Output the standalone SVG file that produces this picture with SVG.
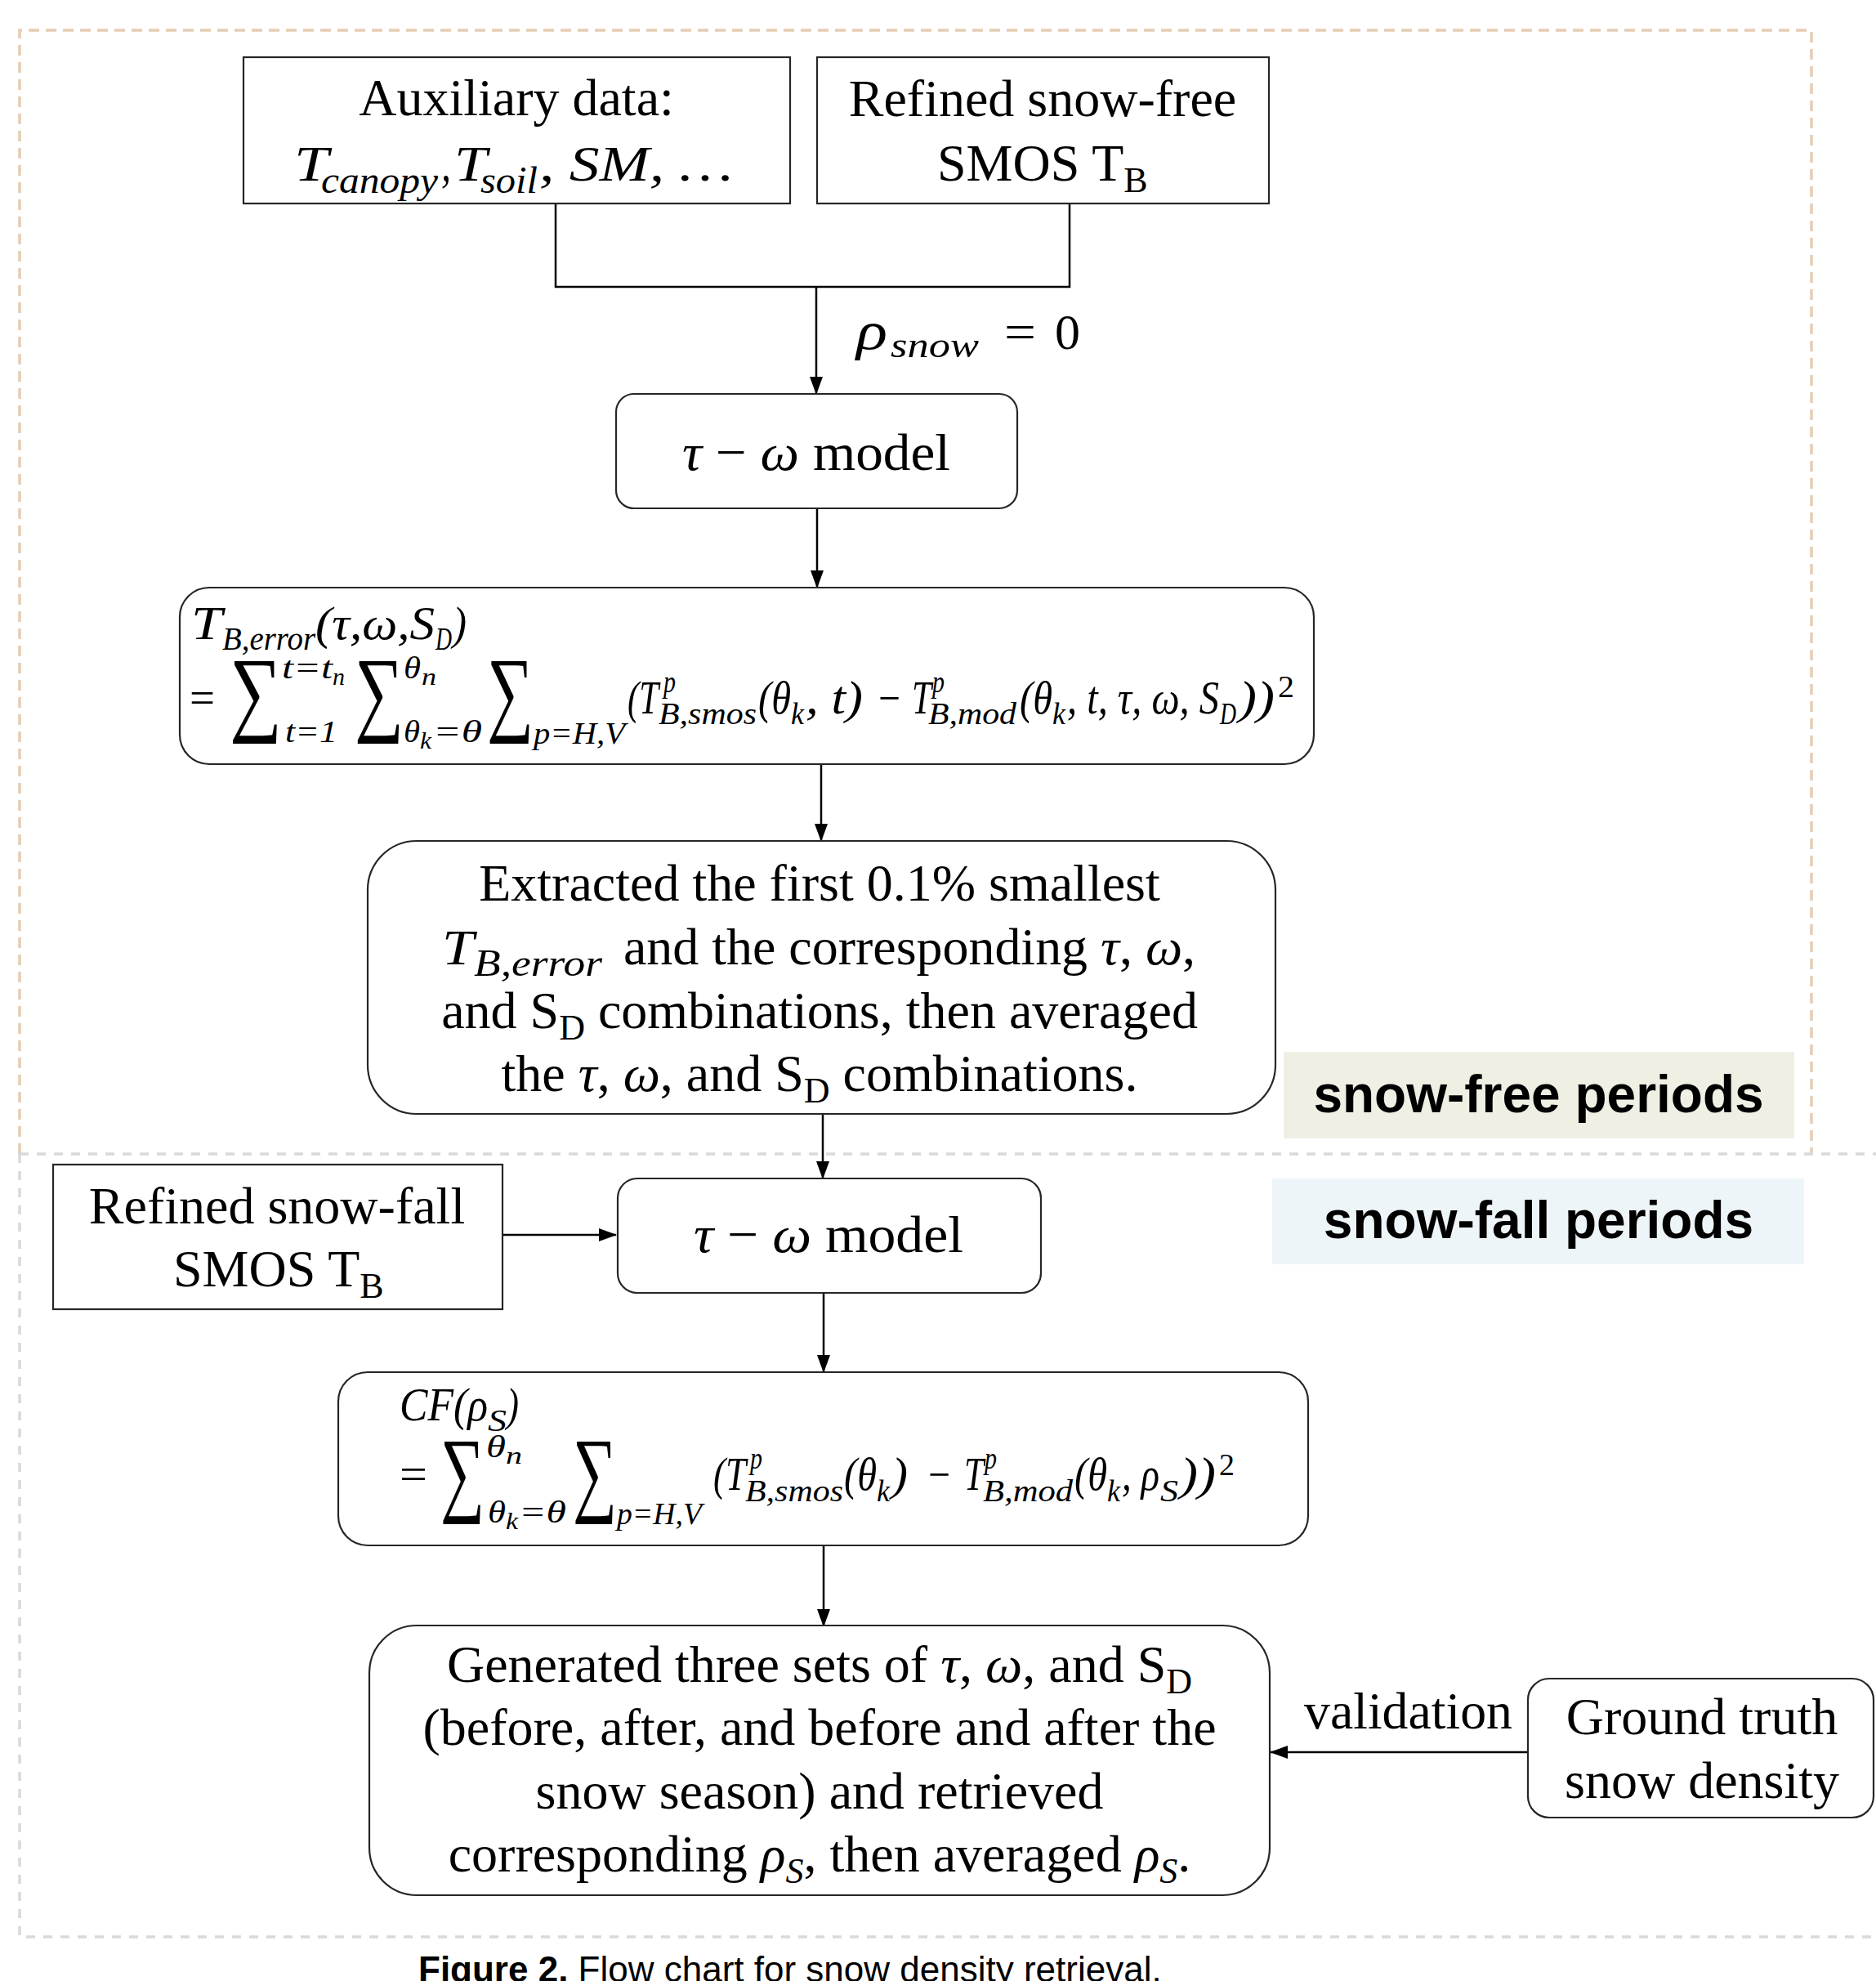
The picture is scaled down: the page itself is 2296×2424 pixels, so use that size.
<svg xmlns="http://www.w3.org/2000/svg" width="2296" height="2424" viewBox="0 0 2296 2424">
<style>
.t{font-family:"Liberation Serif","Times New Roman",serif;font-size:64px;fill:#000}
.m{font-family:"Liberation Serif","Times New Roman",serif;font-style:italic;fill:#000}
.r{font-family:"Liberation Serif","Times New Roman",serif;fill:#000}
.box{fill:#fff;stroke:#262626;stroke-width:2.2}
.conn{stroke:#000;stroke-width:2.5;fill:none}
.lab{font-family:"Liberation Sans",Arial,sans-serif;font-weight:bold;font-size:64px;fill:#000}
.cap{font-family:"Liberation Sans",Arial,sans-serif;font-size:44px;fill:#000}
.dOr{stroke:#e6ccb4;stroke-width:3.5;fill:none;stroke-dasharray:13 8}
.dGr{stroke:#d9d9d9;stroke-width:3.5;fill:none;stroke-dasharray:11 10}
</style>
<defs>
<marker id="ah" markerUnits="userSpaceOnUse" markerWidth="22" markerHeight="16" refX="21" refY="8" orient="auto">
<path d="M0,0 L22,8 L0,16 z" fill="#000"/>
</marker>
</defs>

<g id="regions">
<path class="dOr" d="M24,1412 V37 H2217 V1412"/>
<path class="dGr" d="M24,1412 H2296"/>
<path class="dGr" d="M24,1412 V2370 H2296"/>
<rect x="1571" y="1287" width="625" height="106" fill="#efefe4"/>
<text class="lab" x="1883" y="1361" text-anchor="middle">snow-free periods</text>
<rect x="1557" y="1442" width="651" height="105" fill="#eef5f8"/>
<text class="lab" x="1883" y="1515" text-anchor="middle">snow-fall periods</text>
</g>

<g id="connectors">
<path class="conn" d="M680,249 V351 H1309 V249" stroke-width="3"/>
<line class="conn" x1="999" y1="351" x2="999" y2="482" marker-end="url(#ah)"/>
<line class="conn" x1="1000" y1="622" x2="1000" y2="719" marker-end="url(#ah)"/>
<line class="conn" x1="1005" y1="935" x2="1005" y2="1029" marker-end="url(#ah)"/>
<line class="conn" x1="1007" y1="1363" x2="1007" y2="1442" marker-end="url(#ah)"/>
<line class="conn" x1="615" y1="1511" x2="754" y2="1511" marker-end="url(#ah)" stroke-width="3"/>
<line class="conn" x1="1008" y1="1582" x2="1008" y2="1679" marker-end="url(#ah)"/>
<line class="conn" x1="1008" y1="1891" x2="1008" y2="1990" marker-end="url(#ah)"/>
<line class="conn" x1="1870" y1="2144" x2="1555" y2="2144" marker-end="url(#ah)" stroke-width="3"/>
<g id="rho-label">
<text class="m" x="1048" y="427" font-size="66" textLength="38" lengthAdjust="spacingAndGlyphs">ρ</text>
<text class="m" x="1090" y="437" font-size="44" textLength="108" lengthAdjust="spacingAndGlyphs">snow</text>
<text class="r" x="1229" y="427" font-size="62" textLength="39" lengthAdjust="spacingAndGlyphs">=</text>
<text class="r" x="1291" y="427" font-size="62" textLength="31" lengthAdjust="spacingAndGlyphs">0</text>
</g>
<text class="t" x="1596" y="2115" textLength="255" lengthAdjust="spacingAndGlyphs">validation</text>
</g>

<g id="aux">
<rect class="box" x="298" y="70" width="669" height="179"/>
<text class="t" x="632" y="141" text-anchor="middle">Auxiliary data:</text>
<text class="m" x="360" y="221" font-size="62" textLength="42" lengthAdjust="spacingAndGlyphs">T</text>
<text class="m" x="393" y="236" font-size="46" textLength="143" lengthAdjust="spacingAndGlyphs">canopy</text>
<text class="m" x="540" y="221" font-size="62" textLength="12" lengthAdjust="spacingAndGlyphs">,</text>
<text class="m" x="556" y="221" font-size="62" textLength="40" lengthAdjust="spacingAndGlyphs">T</text>
<text class="m" x="588" y="236" font-size="46" textLength="70" lengthAdjust="spacingAndGlyphs">soil</text>
<text class="m" x="660" y="221" font-size="62" textLength="237" lengthAdjust="spacingAndGlyphs">, SM, …</text>
</g>

<g id="smos-free">
<rect class="box" x="1000" y="70" width="553" height="179"/>
<text class="t" x="1276" y="142" text-anchor="middle">Refined snow-free</text>
<text class="t" x="1147" y="221">SMOS T<tspan font-size="44" dy="14">B</tspan></text>
</g>

<g id="tau-omega-1">
<rect class="box" x="754" y="482" width="491" height="140" rx="22"/>
<text class="t" x="835" y="575" textLength="328" lengthAdjust="spacingAndGlyphs"><tspan font-style="italic">τ</tspan> − <tspan font-style="italic">ω</tspan> model</text>
</g>

<g id="cost-1">
<rect class="box" x="220" y="719" width="1388" height="216" rx="36"/>
<text class="m" x="234" y="782" font-size="56" textLength="38" lengthAdjust="spacingAndGlyphs">T</text>
<text class="m" x="272" y="795" font-size="40" textLength="114" lengthAdjust="spacingAndGlyphs">B,error</text>
<text class="m" x="386" y="782" font-size="56" textLength="146" lengthAdjust="spacingAndGlyphs">(τ,ω,S</text>
<text class="m" x="533" y="795" font-size="40" textLength="20" lengthAdjust="spacingAndGlyphs">D</text>
<text class="m" x="554" y="782" font-size="56" textLength="17" lengthAdjust="spacingAndGlyphs">)</text>
<text class="r" x="232" y="873" font-size="56" textLength="31" lengthAdjust="spacingAndGlyphs">=</text>
<text class="r" x="281" y="885" font-size="116" textLength="64" lengthAdjust="spacingAndGlyphs">∑</text>
<text class="m" x="345" y="830" font-size="38" textLength="62" lengthAdjust="spacingAndGlyphs">t=t</text>
<text class="m" x="407" y="838" font-size="30" textLength="15" lengthAdjust="spacingAndGlyphs">n</text>
<text class="m" x="349" y="908" font-size="38" textLength="64" lengthAdjust="spacingAndGlyphs">t=1</text>
<text class="r" x="434" y="885" font-size="116" textLength="60" lengthAdjust="spacingAndGlyphs">∑</text>
<text class="m" x="494" y="830" font-size="38" textLength="21" lengthAdjust="spacingAndGlyphs">θ</text>
<text class="m" x="516" y="838" font-size="30" textLength="18" lengthAdjust="spacingAndGlyphs">n</text>
<text class="m" x="494" y="908" font-size="38" textLength="20" lengthAdjust="spacingAndGlyphs">θ</text>
<text class="m" x="514" y="916" font-size="30" textLength="14" lengthAdjust="spacingAndGlyphs">k</text>
<text class="m" x="530" y="908" font-size="38" textLength="60" lengthAdjust="spacingAndGlyphs">=θ</text>
<text class="r" x="596" y="885" font-size="116" textLength="57" lengthAdjust="spacingAndGlyphs">∑</text>
<text class="m" x="653" y="910" font-size="38" textLength="112" lengthAdjust="spacingAndGlyphs">p=H,V</text>
<text class="m" x="768" y="873" font-size="56" textLength="38" lengthAdjust="spacingAndGlyphs">(T</text>
<text class="m" x="812" y="847" font-size="38" textLength="15" lengthAdjust="spacingAndGlyphs">p</text>
<text class="m" x="806" y="886" font-size="38" textLength="120" lengthAdjust="spacingAndGlyphs">B,smos</text>
<text class="m" x="928" y="873" font-size="56" textLength="40" lengthAdjust="spacingAndGlyphs">(θ</text>
<text class="m" x="968" y="886" font-size="38" textLength="16" lengthAdjust="spacingAndGlyphs">k</text>
<text class="m" x="986" y="873" font-size="56" textLength="70" lengthAdjust="spacingAndGlyphs">, t)</text>
<text class="r" x="1075" y="873" font-size="56" textLength="27" lengthAdjust="spacingAndGlyphs">−</text>
<text class="m" x="1116" y="873" font-size="56" textLength="24" lengthAdjust="spacingAndGlyphs">T</text>
<text class="m" x="1141" y="847" font-size="38" textLength="15" lengthAdjust="spacingAndGlyphs">p</text>
<text class="m" x="1136" y="886" font-size="38" textLength="108" lengthAdjust="spacingAndGlyphs">B,mod</text>
<text class="m" x="1248" y="873" font-size="56" textLength="40" lengthAdjust="spacingAndGlyphs">(θ</text>
<text class="m" x="1288" y="886" font-size="38" textLength="16" lengthAdjust="spacingAndGlyphs">k</text>
<text class="m" x="1306" y="873" font-size="56" textLength="186" lengthAdjust="spacingAndGlyphs">, t, τ, ω, S</text>
<text class="m" x="1493" y="886" font-size="38" textLength="20" lengthAdjust="spacingAndGlyphs">D</text>
<text class="m" x="1516" y="873" font-size="56" textLength="44" lengthAdjust="spacingAndGlyphs">))</text>
<text class="r" x="1564" y="853" font-size="38" textLength="20" lengthAdjust="spacingAndGlyphs">2</text>
</g>

<g id="extract">
<rect class="box" x="450" y="1029" width="1111" height="334" rx="60"/>
<text class="t" x="1003" y="1102" text-anchor="middle">Extracted the first 0.1% smallest</text>
<text class="m" x="541" y="1180" font-size="62" textLength="39" lengthAdjust="spacingAndGlyphs">T</text>
<text class="m" x="580" y="1194" font-size="46" textLength="157" lengthAdjust="spacingAndGlyphs">B,error</text>
<text class="t" x="763" y="1180" textLength="700" lengthAdjust="spacingAndGlyphs">and the corresponding <tspan font-style="italic">τ</tspan>, <tspan font-style="italic">ω</tspan>,</text>
<text class="t" x="1003" y="1258" text-anchor="middle">and S<tspan font-size="44" dy="14">D</tspan><tspan dy="-14"> combinations, then averaged</tspan></text>
<text class="t" x="1003" y="1335" text-anchor="middle">the <tspan font-style="italic">τ</tspan>, <tspan font-style="italic">ω</tspan>, and S<tspan font-size="44" dy="14">D</tspan><tspan dy="-14"> combinations.</tspan></text>
</g>

<g id="smos-fall">
<rect class="box" x="65" y="1425" width="550" height="177"/>
<text class="t" x="339" y="1497" text-anchor="middle">Refined snow-fall</text>
<text class="t" x="212" y="1574">SMOS T<tspan font-size="44" dy="14">B</tspan></text>
</g>

<g id="tau-omega-2">
<rect class="box" x="756" y="1442" width="518" height="140" rx="24"/>
<text class="t" x="849" y="1532" textLength="330" lengthAdjust="spacingAndGlyphs"><tspan font-style="italic">τ</tspan> − <tspan font-style="italic">ω</tspan> model</text>
</g>

<g id="cost-2">
<rect class="box" x="414" y="1679" width="1187" height="212" rx="36"/>
<text class="m" x="489" y="1738" font-size="56" textLength="108" lengthAdjust="spacingAndGlyphs">CF(ρ</text>
<text class="m" x="597" y="1751" font-size="38" textLength="23" lengthAdjust="spacingAndGlyphs">S</text>
<text class="m" x="620" y="1738" font-size="56" textLength="15" lengthAdjust="spacingAndGlyphs">)</text>
<text class="r" x="489" y="1823" font-size="56" textLength="34" lengthAdjust="spacingAndGlyphs">=</text>
<text class="r" x="539" y="1840" font-size="116" textLength="54" lengthAdjust="spacingAndGlyphs">∑</text>
<text class="m" x="595" y="1783" font-size="38" textLength="24" lengthAdjust="spacingAndGlyphs">θ</text>
<text class="m" x="619" y="1791" font-size="30" textLength="20" lengthAdjust="spacingAndGlyphs">n</text>
<text class="m" x="597" y="1863" font-size="38" textLength="22" lengthAdjust="spacingAndGlyphs">θ</text>
<text class="m" x="619" y="1871" font-size="30" textLength="15" lengthAdjust="spacingAndGlyphs">k</text>
<text class="m" x="635" y="1863" font-size="38" textLength="58" lengthAdjust="spacingAndGlyphs">=θ</text>
<text class="r" x="701" y="1840" font-size="116" textLength="54" lengthAdjust="spacingAndGlyphs">∑</text>
<text class="m" x="755" y="1865" font-size="38" textLength="104" lengthAdjust="spacingAndGlyphs">p=H,V</text>
<text class="m" x="873" y="1823" font-size="56" textLength="40" lengthAdjust="spacingAndGlyphs">(T</text>
<text class="m" x="918" y="1797" font-size="38" textLength="15" lengthAdjust="spacingAndGlyphs">p</text>
<text class="m" x="912" y="1837" font-size="38" textLength="120" lengthAdjust="spacingAndGlyphs">B,smos</text>
<text class="m" x="1033" y="1823" font-size="56" textLength="40" lengthAdjust="spacingAndGlyphs">(θ</text>
<text class="m" x="1073" y="1837" font-size="38" textLength="16" lengthAdjust="spacingAndGlyphs">k</text>
<text class="m" x="1091" y="1823" font-size="56" textLength="20" lengthAdjust="spacingAndGlyphs">)</text>
<text class="r" x="1136" y="1823" font-size="56" textLength="27" lengthAdjust="spacingAndGlyphs">−</text>
<text class="m" x="1180" y="1823" font-size="56" textLength="24" lengthAdjust="spacingAndGlyphs">T</text>
<text class="m" x="1205" y="1797" font-size="38" textLength="15" lengthAdjust="spacingAndGlyphs">p</text>
<text class="m" x="1203" y="1837" font-size="38" textLength="110" lengthAdjust="spacingAndGlyphs">B,mod</text>
<text class="m" x="1315" y="1823" font-size="56" textLength="40" lengthAdjust="spacingAndGlyphs">(θ</text>
<text class="m" x="1355" y="1837" font-size="38" textLength="16" lengthAdjust="spacingAndGlyphs">k</text>
<text class="m" x="1373" y="1823" font-size="56" textLength="46" lengthAdjust="spacingAndGlyphs">, ρ</text>
<text class="m" x="1420" y="1837" font-size="38" textLength="22" lengthAdjust="spacingAndGlyphs">S</text>
<text class="m" x="1444" y="1823" font-size="56" textLength="44" lengthAdjust="spacingAndGlyphs">))</text>
<text class="r" x="1492" y="1805" font-size="38" textLength="19" lengthAdjust="spacingAndGlyphs">2</text>
</g>

<g id="generate">
<rect class="box" x="452" y="1989" width="1102" height="330" rx="58"/>
<text class="t" x="1003" y="2058" text-anchor="middle">Generated three sets of <tspan font-style="italic">τ</tspan>, <tspan font-style="italic">ω</tspan>, and S<tspan font-size="44" dy="14">D</tspan></text>
<text class="t" x="1003" y="2135" text-anchor="middle">(before, after, and before and after the</text>
<text class="t" x="1003" y="2213" text-anchor="middle">snow season) and retrieved</text>
<text class="t" x="1003" y="2290" text-anchor="middle">corresponding <tspan font-style="italic">ρ</tspan><tspan font-style="italic" font-size="44" dy="14">S</tspan><tspan dy="-14">, then averaged </tspan><tspan font-style="italic">ρ</tspan><tspan font-style="italic" font-size="44" dy="14">S</tspan><tspan dy="-14">.</tspan></text>
</g>

<g id="ground-truth">
<rect class="box" x="1870" y="2054" width="423" height="170" rx="26"/>
<text class="t" x="2083" y="2122" text-anchor="middle">Ground truth</text>
<text class="t" x="2083" y="2200" text-anchor="middle">snow density</text>
</g>

<text class="cap" x="512" y="2425"><tspan font-weight="bold">Figure 2.</tspan> Flow chart for snow density retrieval.</text>
</svg>
